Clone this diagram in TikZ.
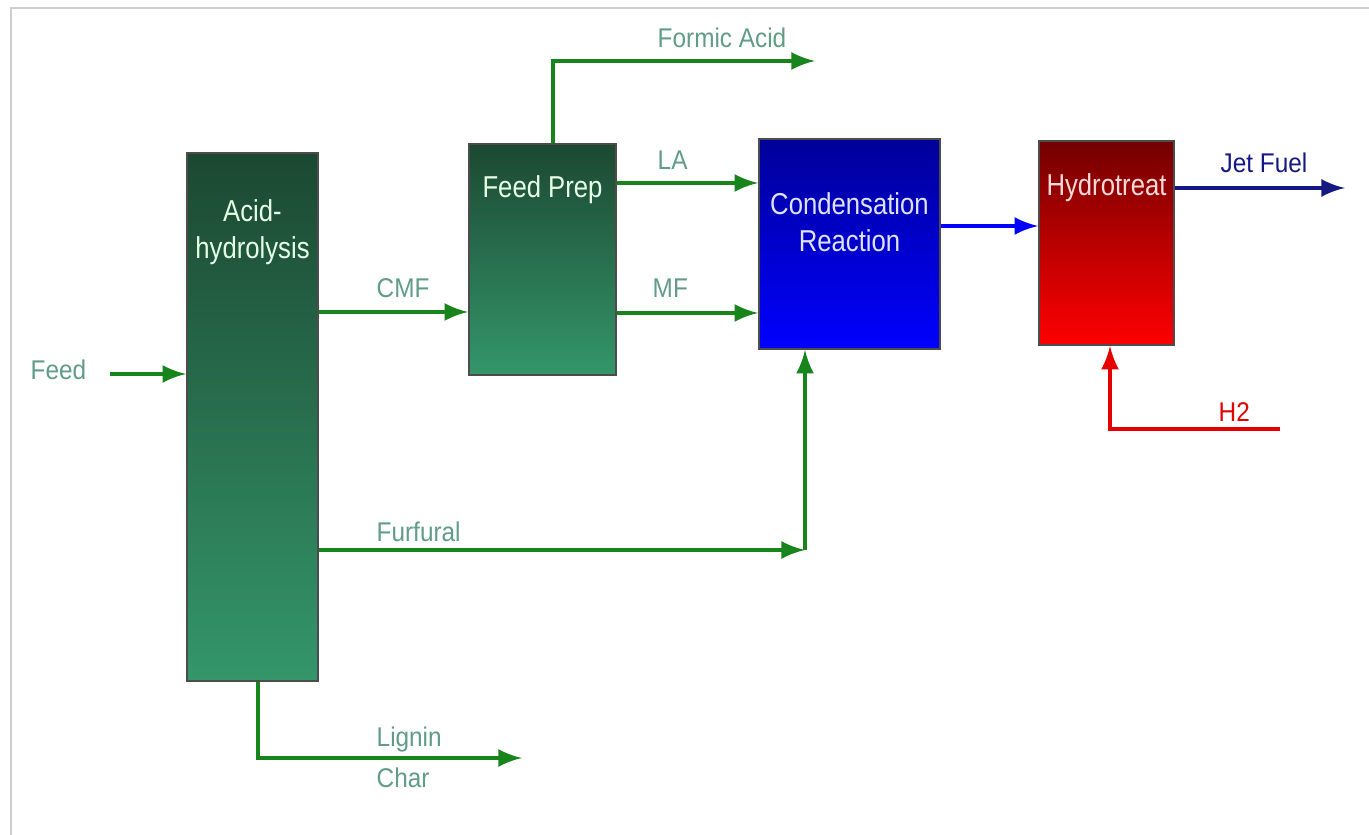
\documentclass[tikz,border=0pt]{standalone}
\usepackage{fontspec}
\setmainfont{Liberation Sans}
\newfontfamily\boxfont[FakeStretch=0.85]{Liberation Sans}
\newfontfamily\labfont[FakeStretch=0.9]{Liberation Sans}
\usepackage{xcolor}
\usepackage{tikz}
\usetikzlibrary{arrows,positioning,calc}
\definecolor{flowgreen}{RGB}{24,132,28}
\definecolor{labgreen}{RGB}{96,156,134}
\definecolor{jetblue}{RGB}{20,24,130}
\definecolor{framegray}{RGB}{205,205,205}
\definecolor{unittop}{RGB}{28,72,50}
\definecolor{unitmid}{RGB}{42,120,84}
\definecolor{unitbot}{RGB}{52,150,106}

\begin{document}
\begin{tikzpicture}[
		unit/.style={draw=black!70,line width=0.5pt,inner sep=0pt},
		greenunit/.style={unit,top color=unittop,middle color=unitmid,bottom color=unitbot},
		flow/.style={-latex,line width=1.3pt,draw=flowgreen},
		boxtext/.style={text=white!90!green,align=center,font=\boxfont\fontsize{8.6}{10.6}\selectfont},
		lab/.style={text=labgreen,font=\labfont\fontsize{7.7}{9}\selectfont,inner sep=0pt}]
		\useasboundingbox (0,0) rectangle (13.69,8.35);
		\draw[framegray,line width=0.8pt] (0.11,0) -- (0.11,8.27) -- (13.69,8.27);
		% units
		\node[greenunit,minimum width=1.31cm,minimum height=5.28cm] (acid) at (2.525,4.18) {};
		\node[greenunit,minimum width=1.47cm,minimum height=2.31cm] (prep) at (5.425,5.755) {};
		\node[unit,top color=blue!60!black,bottom color=blue,minimum width=1.81cm,minimum height=2.10cm] (cond) at (8.495,5.91) {};
		\node[unit,top color=red!45!black,middle color=red!85!black,bottom color=red,minimum width=1.35cm,minimum height=2.04cm] (hydro) at (11.065,5.92) {};
		\node[boxtext] (acidtxt) at (2.525,6.03) {Acid-\\hydrolysis};
		\node[boxtext] (preptxt) at (5.425,6.45) {Feed Prep};
		\node[boxtext,text=white!88!blue] (condtxt) at (8.495,6.13) {Condensation\\Reaction};
		\node[boxtext,text=white!85!red] (hydrotxt) at (11.065,6.47) {Hydrotreat};
		% feed
		\coordinate (feedin) at (1.10,4.61);
		\draw[flow] (feedin) -- (feedin -| acid.west);
		\node[lab,anchor=west] (feed) at (0.30,4.65) {Feed};
		% CMF
		\draw[flow] (acid.east |- 0,5.23) -- (prep.west |- 0,5.23);
		\node[lab,anchor=west] (cmf) at (3.76,5.47) {CMF};
		% formic acid
		\coordinate (formic) at (8.15,7.74);
		\draw[flow] (5.53,0 |- prep.north) -- (5.53,7.74) -- (formic);
		\node[lab,anchor=west] (formictxt) at (6.57,7.97) {Formic Acid};
		% LA and MF
		\draw[flow] (prep.east |- 0,6.52) -- (cond.west |- 0,6.52);
		\node[lab,anchor=west] (la) at (6.57,6.75) {LA};
		\draw[flow] (prep.east |- 0,5.22) -- (cond.west |- 0,5.22);
		\node[lab,anchor=west] (mf) at (6.52,5.47) {MF};
		% furfural
		\coordinate (furf) at (8.05,2.85);
		\draw[flow] (acid.east |- furf) -- (furf);
		\draw[flow] (furf) -- (furf |- cond.south);
		\node[lab,anchor=west] (furftxt) at (3.76,3.03) {Furfural};
		% lignin char
		\coordinate (lignin) at (5.22,0.77);
		\draw[flow] (2.58,0 |- acid.south) -- (2.58,0.77) -- (lignin);
		\node[lab,anchor=west] (lignintxt) at (3.76,0.95) {Lignin};
		\node[lab,anchor=west] (chartxt) at (3.76,0.57) {Char};
		% condensation to hydrotreat
		\draw[flow,draw=blue] (cond.east |- 0,6.09) -- (hydro.west |- 0,6.09);
		% jet fuel
		\coordinate (jet) at (13.45,6.47);
		\draw[flow,draw=jetblue] (hydro.east |- jet) -- (jet);
		\node[lab,anchor=west,text=jetblue] (jettxt) at (12.20,6.72) {Jet Fuel};
		% hydrogen
		\coordinate (h2in) at (12.80,4.06);
		\draw[flow,draw=red!90!black] (h2in) -- (11.10,4.06) -- (11.10,0 |- hydro.south);
		\node[lab,anchor=west,text=red!90!black] (h2) at (12.18,4.23) {H2};
	\end{tikzpicture}
\end{document}
